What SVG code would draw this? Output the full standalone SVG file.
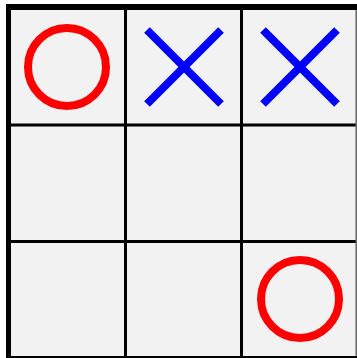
<svg xmlns="http://www.w3.org/2000/svg" width="357" height="358" viewBox="0 0 357 358">
<style>
.grid{stroke:#000;stroke-width:3;fill:none}
.o{fill:none;stroke:#ff0000;stroke-width:8}
.x{stroke:#0000ff;stroke-width:8;stroke-linecap:butt}
</style>
<rect x="0" y="0" width="357" height="358" fill="#fff"/>
<g id="board">
<rect x="10" y="9" width="348" height="349" fill="#f2f2f2"/>
<g id="gridlines">
<line class="grid" x1="125.5" y1="9" x2="125.5" y2="358"/>
<line class="grid" x1="241.5" y1="9" x2="241.5" y2="358"/>
<line class="grid" x1="10" y1="125" x2="356" y2="125"/>
<line class="grid" x1="10" y1="241.5" x2="356" y2="241.5"/>
<line stroke="#666" stroke-width="1.5" x1="356.2" y1="9" x2="356.2" y2="358"/>
<line stroke="#000" stroke-width="3" x1="10" y1="357.5" x2="358" y2="357.5"/>
<line stroke="#000" stroke-width="5" x1="8.5" y1="4" x2="8.5" y2="358"/>
<line stroke="#000" stroke-width="6" x1="6" y1="7" x2="358" y2="7"/>
</g>
</g>
<g id="cell-0-0"><circle class="o" cx="67" cy="67" r="39"/></g>
<g id="cell-0-1"><line class="x" x1="147" y1="30" x2="221" y2="104"/><line class="x" x1="221" y1="30" x2="147" y2="104"/></g>
<g id="cell-0-2"><line class="x" x1="263" y1="30" x2="337" y2="104"/><line class="x" x1="337" y1="30" x2="263" y2="104"/></g>
<g id="cell-2-2"><circle class="o" cx="300" cy="299" r="39"/></g>
</svg>
